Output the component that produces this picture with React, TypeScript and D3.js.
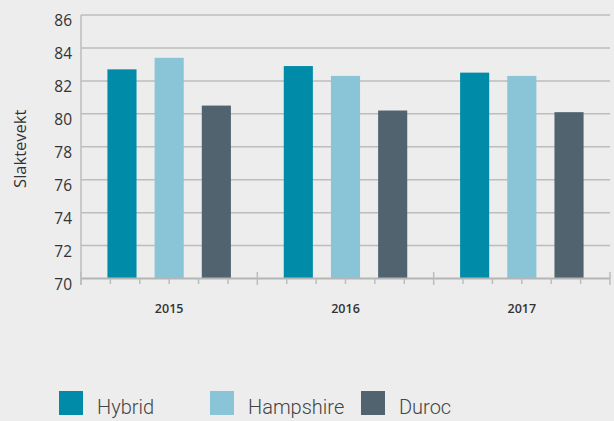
import React from "react";
import * as d3 from "d3";

const years = ["2015", "2016", "2017"];
const seriesNames = ["Hybrid", "Hampshire", "Duroc"];
const hybrid = [82.7, 82.9, 82.5];
const hampshire = [83.4, 82.3, 82.3];
const duroc = [80.5, 80.2, 80.1];
const yTicks = [70, 72, 74, 76, 78, 80, 82, 84, 86];
const colors = ["#008CA8", "#8AC4D7", "#51636E"];

const W = 614;
const H = 421;
const left = 81;
const right = 610;
const top = 15;
const bottom = 278.5;

export default function App() {
  const values = [hybrid, hampshire, duroc];
  const x0 = d3.scaleBand<string>().domain(years).range([left, right]).paddingInner(0).paddingOuter(0);
  const x1 = d3
    .scaleBand<string>()
    .domain(seriesNames)
    .range([0, x0.bandwidth()])
    .paddingInner(0.383)
    .paddingOuter(0.56);
  const y = d3.scaleLinear().domain([70, 86]).range([bottom, top]);

  const minorStep = x0.bandwidth() / 6;
  const minorTicks: number[] = [];
  years.forEach((yr) => {
    for (let i = 1; i < 6; i++) minorTicks.push((x0(yr) as number) + i * minorStep);
  });
  const majorTicks = [left, ...years.map((yr) => (x0(yr) as number) + x0.bandwidth())];

  const legendX = [59, 210, 361];

  return (
    <div style={{ position: "absolute", left: 0, top: 0, width: W, height: H }}>
      <svg width={W} height={H} style={{ display: "block", background: "#EDEDED" }}>
        <rect x={0} y={0} width={W} height={H} fill="#EDEDED" />
        {yTicks.map((t) =>
          t === 70 ? null : (
            <line key={"g" + t} x1={left} x2={right} y1={y(t)} y2={y(t)} stroke="#BDBDBD" strokeWidth={1.5} />
          )
        )}
        {yTicks.map((t) => (
          <text
            key={"yl" + t}
            x={72}
            y={y(t) + 11}
            textAnchor="end"
            fontFamily="'Open Sans', sans-serif"
            fontSize={15.5}
            fill="#333"
          >
            {t}
          </text>
        ))}
        <text
          transform={`translate(26,${(top + bottom) / 2 + 2}) rotate(-90)`}
          textAnchor="middle"
          fontFamily="'Open Sans', sans-serif"
          fontSize={16.5}
          fill="#333"
        >
          Slaktevekt
        </text>
        {years.map((yr, i) =>
          seriesNames.map((s, j) => (
            <rect
              key={yr + s}
              x={(x0(yr) as number) + (x1(s) as number)}
              y={y(values[j][i])}
              width={x1.bandwidth()}
              height={bottom - y(values[j][i])}
              fill={colors[j]}
            />
          ))
        )}
        <line x1={left} x2={left} y1={top} y2={285} stroke="#BDBDBD" strokeWidth={1.5} />
        <line x1={left} x2={right} y1={bottom} y2={bottom} stroke="#B5B5B5" strokeWidth={1.8} />
        {minorTicks.map((t, i) => (
          <line key={"mt" + i} x1={t} x2={t} y1={bottom} y2={284} stroke="#BDBDBD" strokeWidth={1.5} />
        ))}
        {majorTicks.map((t, i) => (
          <line key={"Mt" + i} x1={t} x2={t} y1={272} y2={285} stroke="#BDBDBD" strokeWidth={1.5} />
        ))}
        {years.map((yr) => (
          <text
            key={"xl" + yr}
            x={(x0(yr) as number) + x0.bandwidth() / 2}
            y={313}
            textAnchor="middle"
            fontFamily="'Open Sans', sans-serif"
            fontSize={12.5}
            fontWeight={600}
            fill="#333"
          >
            {yr}
          </text>
        ))}
        {seriesNames.map((s, j) => (
          <g key={"lg" + s}>
            <rect x={legendX[j]} y={391} width={24} height={24} fill={colors[j]} />
            <text
              x={legendX[j] + 38}
              y={414}
              fontFamily="Roboto, sans-serif"
              fontWeight={300}
              fontSize={20}
              fill="#444"
            >
              {s}
            </text>
          </g>
        ))}
      </svg>
    </div>
  );
}
